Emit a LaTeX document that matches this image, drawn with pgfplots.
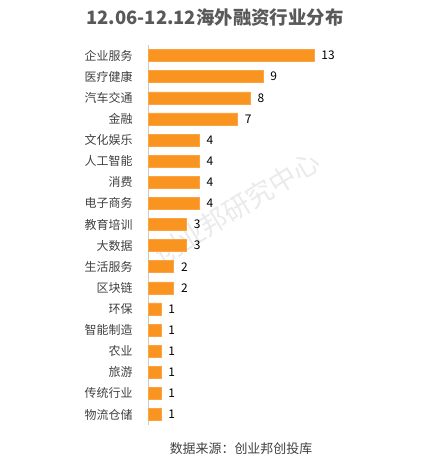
\documentclass[border=0pt]{standalone}
\usepackage{pgfplots}
\pgfplotsset{compat=1.18}
\usepackage{fontspec}
\setmainfont{Noto Sans CJK SC}
\definecolor{barc}{RGB}{250,148,32}
\definecolor{lab}{RGB}{64,64,64}
\definecolor{ttl}{RGB}{89,89,89}
\definecolor{wm}{RGB}{234,234,234}
\begin{document}
\begin{tikzpicture}
\path[use as bounding box] (0bp,0bp) rectangle (430bp,467bp);
\node[wm, rotate=31.5, font=\fontsize{27}{27}\selectfont] at (237bp,259bp) {创业邦研究中心};
\node[ttl, font=\fontsize{18.5}{18.5}\selectfont\bfseries] at (215bp,449bp) {12.06-12.12海外融资行业分布};
\node[lab, font=\fontsize{13}{13}\selectfont] at (241bp,18bp) {数据来源：创业邦创投库};
\begin{axis}[
  at={(148bp,42bp)}, anchor=south west,
  scale only axis, width=191.5bp, height=380bp,
  xbar, bar width=12bp,
  xmin=0, xmax=15,
  ymin=-0.5, ymax=17.5,
  y dir=reverse,
  axis x line=none,
  axis y line*=left,
  y axis line style={draw=black!20, line width=0.8pt},
  ytick={0,...,17},
  yticklabels={企业服务,医疗健康,汽车交通,金融,文化娱乐,人工智能,消费,电子商务,教育培训,大数据,生活服务,区块链,环保,智能制造,农业,旅游,传统行业,物流仓储},
  yticklabel style={lab, font=\fontsize{12}{12}\selectfont, xshift=-12bp},
  major tick length=0pt,
  /pgf/number format/assume math mode=true,
  nodes near coords,
  nodes near coords style={black, font=\fontsize{12}{12}\selectfont, xshift=4bp},
  every node near coord/.append style={anchor=west},
  clip=false,
]
\addplot[fill=barc, draw=barc!85!white, line width=0.4pt] coordinates {
(13,0) (9,1) (8,2) (7,3) (4,4) (4,5) (4,6) (4,7) (3,8) (3,9) (2,10) (2,11) (1,12) (1,13) (1,14) (1,15) (1,16) (1,17)
};
\end{axis}
\end{tikzpicture}
\end{document}
